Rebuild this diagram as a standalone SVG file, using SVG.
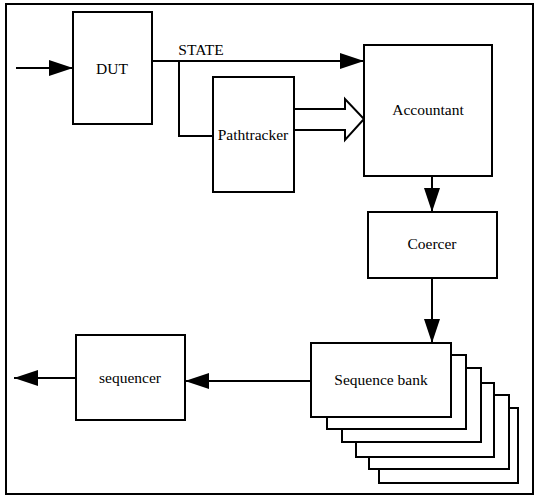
<svg xmlns="http://www.w3.org/2000/svg" width="540" height="498" viewBox="0 0 540 498">
<defs>
<style>
.box{fill:#fff;stroke:#000;stroke-width:2}
.ln{fill:none;stroke:#000;stroke-width:2}
.t{font-family:"Liberation Serif",serif;font-size:15.5px;fill:#000;text-anchor:middle}
</style>
<marker id="ah" markerUnits="userSpaceOnUse" markerWidth="24" markerHeight="18" refX="24" refY="8" orient="auto">
<path d="M0,0 L24,8 L0,16 Z" fill="#000"/>
</marker>
</defs>
<rect x="6" y="4" width="527" height="490" fill="#fff" stroke="#000" stroke-width="2"/>
<g id="connectors">
<line class="ln" x1="16" y1="68" x2="73" y2="68" marker-end="url(#ah)"/>
<line class="ln" x1="152" y1="61" x2="364" y2="61" marker-end="url(#ah)"/>
<polyline class="ln" points="179,61 179,136 213,136"/>
<path class="ln" d="M294,109 H345 V99 L364,119 L345,140 V130 H294"/>
<line class="ln" x1="432" y1="176" x2="432" y2="212" marker-end="url(#ah)"/>
<line class="ln" x1="432" y1="278" x2="432" y2="343" marker-end="url(#ah)"/>
<line class="ln" x1="311" y1="381" x2="185" y2="381" marker-end="url(#ah)"/>
<line class="ln" x1="76" y1="378" x2="14" y2="378" marker-end="url(#ah)"/>
<text class="t" x="201" y="55">STATE</text>
</g>
<g id="dut">
<rect class="box" x="73" y="12" width="79" height="112"/>
<text class="t" x="112" y="74">DUT</text>
</g>
<g id="pathtracker">
<rect class="box" x="213" y="77" width="81" height="115"/>
<text class="t" x="253" y="140">Pathtracker</text>
</g>
<g id="accountant">
<rect class="box" x="364" y="45" width="128" height="131"/>
<text class="t" x="428" y="115">Accountant</text>
</g>
<g id="coercer">
<rect class="box" x="368" y="212" width="129" height="66"/>
<text class="t" x="432" y="249">Coercer</text>
</g>
<g id="sequence-bank">
<rect class="box" x="379" y="408" width="139" height="75"/>
<rect class="box" x="369" y="395" width="140" height="74"/>
<rect class="box" x="356" y="383" width="138" height="74"/>
<rect class="box" x="342" y="368" width="139" height="74"/>
<rect class="box" x="327" y="355" width="139" height="74"/>
<rect class="box" x="311" y="343" width="140" height="74"/>
<text class="t" x="381" y="385">Sequence bank</text>
</g>
<g id="sequencer">
<rect class="box" x="76" y="335" width="109" height="85"/>
<text class="t" x="130" y="383">sequencer</text>
</g>
</svg>
